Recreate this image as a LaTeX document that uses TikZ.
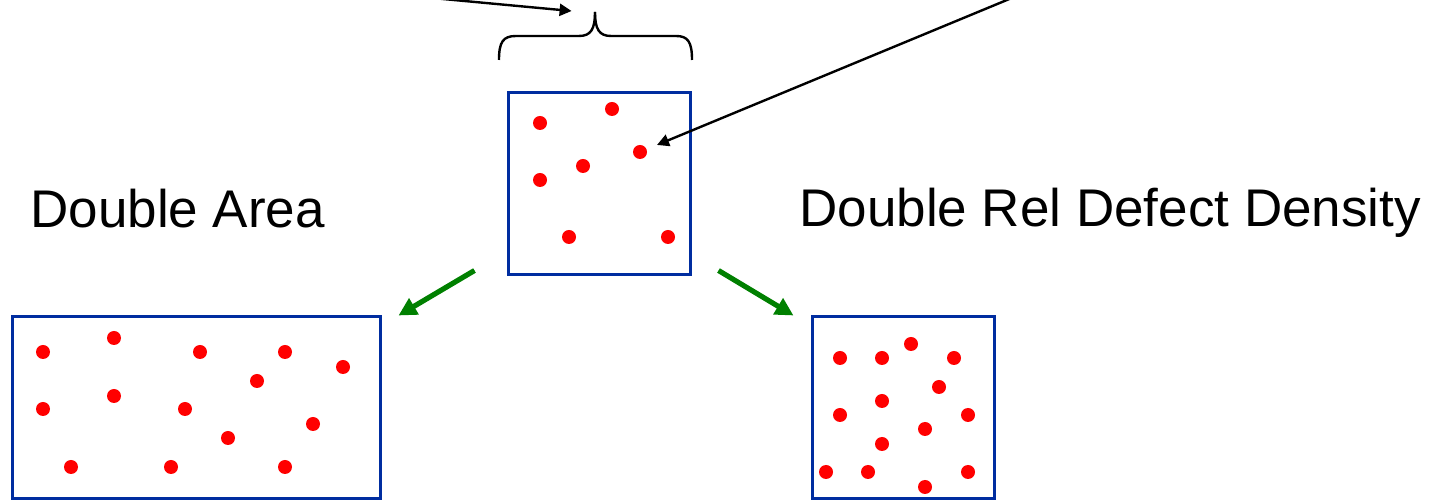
\documentclass[tikz,border=0pt]{standalone}
\usepackage{fontspec}
\setmainfont{Liberation Sans}
\usepackage{xcolor}
\usetikzlibrary{arrows.meta, positioning, calc}

\definecolor{boxblue}{RGB}{0,45,160}
\definecolor{arrgreen}{RGB}{0,128,0}

\begin{document}
\begin{tikzpicture}[
  x=0.5pt, y=-0.5pt,
  every node/.style={font=\fontsize{26.5}{30}\selectfont},
  panel/.style={rectangle, draw=boxblue, line width=1.5pt, minimum height=91pt, inner sep=0pt},
  dot/.style={circle, fill=red, minimum size=7pt, inner sep=0pt},
  arr/.style={-{Triangle[length=6pt,width=6pt]}, line width=1.2pt},
  garr/.style={-{Triangle[length=9pt,width=9pt]}, line width=2.6pt, draw=arrgreen, fill=arrgreen},
  brace/.style={line width=1.2pt},
]
\useasboundingbox (0,0) rectangle (1436,501);

% sample panels
\node[panel, minimum width=91pt]  (mid)   at (599,184) {};
\node[panel, minimum width=184pt] (wide)  at (196,408) {};
\node[panel, minimum width=91pt]  (dense) at (903,408) {};

% defects, original sample
\node[dot] (m1) at (540,123) {}; \node[dot] (m2) at (612,109) {};
\node[dot] (m3) at (640,152) {}; \node[dot] (m4) at (583,166) {};
\node[dot] (m5) at (540,180) {}; \node[dot] (m6) at (569,237) {};
\node[dot] (m7) at (668,237) {};

% defects, double area
\node[dot] (w1) at (43,352) {};   \node[dot] (w2) at (114,338) {};
\node[dot] (w3) at (200,352) {};  \node[dot] (w4) at (285,352) {};
\node[dot] (w5) at (343,367) {};  \node[dot] (w6) at (257,381) {};
\node[dot] (w7) at (43,409) {};   \node[dot] (w8) at (114,396) {};
\node[dot] (w9) at (185,409) {};  \node[dot] (w10) at (313,424) {};
\node[dot] (w11) at (228,438) {}; \node[dot] (w12) at (71,467) {};
\node[dot] (w13) at (171,467) {}; \node[dot] (w14) at (285,467) {};

% defects, double density
\node[dot] (d1) at (840,358) {};  \node[dot] (d2) at (882,358) {};
\node[dot] (d3) at (911,344) {};  \node[dot] (d4) at (954,358) {};
\node[dot] (d5) at (939,387) {};  \node[dot] (d6) at (882,401) {};
\node[dot] (d7) at (840,415) {};  \node[dot] (d8) at (968,415) {};
\node[dot] (d9) at (925,429) {};  \node[dot] (d10) at (882,444) {};
\node[dot] (d11) at (826,472) {}; \node[dot] (d12) at (868,472) {};
\node[dot] (d13) at (968,472) {}; \node[dot] (d14) at (925,487) {};

\node[anchor=base west, inner sep=0pt] (lblarea) at (30,228) {Double Area};
\node[anchor=base west, inner sep=0pt] (lbldens) at (799,227) {Double Rel Defect Density};

% brace over the sample
\coordinate (bl) at (499,60);
\coordinate (bt) at (595,12);
\coordinate (br) at (692,60);
\draw[brace] (bl) .. controls (499,42) and (503,36) .. (516,36) -- (579,36)
  .. controls (591,36) and (595,29) .. (bt);
\draw[brace] (bt) .. controls (595,29) and (599,36) .. (611,36) -- (676,36)
  .. controls (688,36) and (692,42) .. (br);

% pointers from outside
\coordinate (srcA) at (400,-5);
\coordinate (srcB) at (1019,-5);
\draw[arr] (srcA) -- ([xshift=-11.7pt,yshift=0.5pt]bt);
\draw[arr, shorten >=5.5pt] (srcB) -- (m3);

\draw[garr] ([xshift=-16pt,yshift=3pt]mid.south west) -- ([xshift=8.5pt]wide.north east);
\draw[garr] ([xshift=13.5pt,yshift=3pt]mid.south east) -- ([xshift=-8.5pt]dense.north west);
\end{tikzpicture}
\end{document}
